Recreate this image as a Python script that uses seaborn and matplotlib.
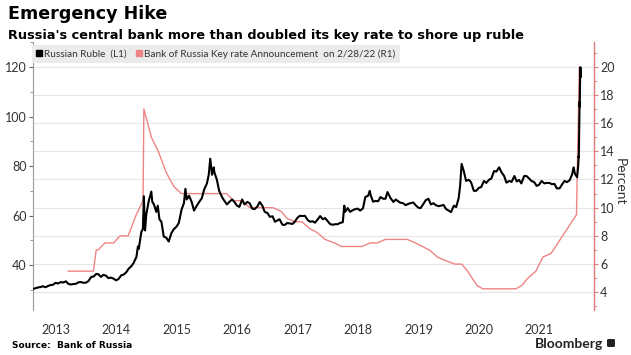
import numpy as np
import pandas as pd
import matplotlib
matplotlib.use("Agg")
import matplotlib.pyplot as plt
import matplotlib.dates as mdates
from matplotlib.lines import Line2D
from matplotlib.patches import FancyBboxPatch
import seaborn as sns

# ---------------- data ----------------
ruble_dates = [
    "2013-02-14", "2013-03-01", "2013-03-15", "2013-04-01", "2013-04-15", "2013-05-01", "2013-05-15",
    "2013-06-01", "2013-06-15", "2013-07-01", "2013-07-15", "2013-08-01", "2013-08-15", "2013-09-01",
    "2013-09-15", "2013-10-01", "2013-10-15", "2013-11-01", "2013-11-15", "2013-12-01", "2013-12-15",
    "2014-01-01", "2014-01-15", "2014-02-01", "2014-02-15", "2014-03-03", "2014-03-15", "2014-04-01",
    "2014-04-15", "2014-05-01", "2014-05-15", "2014-06-01", "2014-06-15", "2014-07-01", "2014-07-15",
    "2014-08-01", "2014-08-15", "2014-09-01", "2014-09-15", "2014-10-01", "2014-10-15", "2014-11-01",
    "2014-11-10", "2014-11-15", "2014-12-01", "2014-12-10", "2014-12-16", "2014-12-19", "2014-12-23",
    "2014-12-31", "2015-01-15", "2015-01-30", "2015-02-05", "2015-02-15", "2015-03-01", "2015-03-10",
    "2015-03-20", "2015-04-01", "2015-04-15", "2015-05-01", "2015-05-15", "2015-06-01", "2015-06-15",
    "2015-07-01", "2015-07-15", "2015-08-01", "2015-08-15", "2015-08-24", "2015-09-01", "2015-09-15",
    "2015-10-01", "2015-10-15", "2015-11-01", "2015-11-15", "2015-12-01", "2015-12-15", "2016-01-01",
    "2016-01-12", "2016-01-21", "2016-02-01", "2016-02-11", "2016-02-15", "2016-03-01", "2016-03-15",
    "2016-04-01", "2016-04-15", "2016-05-01", "2016-05-15", "2016-06-01", "2016-06-15", "2016-07-01",
    "2016-07-15", "2016-08-01", "2016-08-15", "2016-09-01", "2016-09-15", "2016-10-01", "2016-10-15",
    "2016-11-01", "2016-11-15", "2016-12-01", "2016-12-15", "2017-01-01", "2017-01-15", "2017-02-01",
    "2017-02-15", "2017-03-01", "2017-03-15", "2017-04-01", "2017-04-15", "2017-05-01", "2017-05-15",
    "2017-06-01", "2017-06-15", "2017-07-01", "2017-07-15", "2017-08-01", "2017-08-15", "2017-09-01",
    "2017-09-15", "2017-10-01", "2017-10-15", "2017-11-01", "2017-11-15", "2017-12-01", "2017-12-15",
    "2018-01-01", "2018-01-15", "2018-02-01", "2018-02-15", "2018-03-01", "2018-03-15", "2018-04-01",
    "2018-04-10", "2018-04-15", "2018-05-01", "2018-05-15", "2018-06-01", "2018-06-15", "2018-07-01",
    "2018-07-15", "2018-08-01", "2018-08-15", "2018-09-01", "2018-09-11", "2018-09-15", "2018-10-01",
    "2018-10-15", "2018-11-01", "2018-11-15", "2018-12-01", "2018-12-15", "2018-12-27", "2019-01-15",
    "2019-02-01", "2019-02-15", "2019-03-01", "2019-03-15", "2019-04-01", "2019-04-15", "2019-05-01",
    "2019-05-15", "2019-06-01", "2019-06-15", "2019-07-01", "2019-07-15", "2019-08-01", "2019-08-15",
    "2019-09-01", "2019-09-15", "2019-10-01", "2019-10-15", "2019-11-01", "2019-11-15", "2019-12-01",
    "2019-12-15", "2020-01-01", "2020-01-15", "2020-02-01", "2020-02-15", "2020-03-01", "2020-03-10",
    "2020-03-19", "2020-04-01", "2020-04-15", "2020-05-01", "2020-05-15", "2020-06-01", "2020-06-15",
    "2020-07-01", "2020-07-15", "2020-08-01", "2020-08-15", "2020-09-01", "2020-09-15", "2020-10-01",
    "2020-10-15", "2020-11-01", "2020-11-15", "2020-12-01", "2020-12-15", "2021-01-01", "2021-01-15",
    "2021-02-01", "2021-02-15", "2021-03-01", "2021-03-15", "2021-04-01", "2021-04-15", "2021-05-01",
    "2021-05-15", "2021-06-01", "2021-06-15", "2021-07-01", "2021-07-15", "2021-08-01", "2021-08-15",
    "2021-09-01", "2021-09-15", "2021-10-01", "2021-10-15", "2021-11-01", "2021-11-15", "2021-12-01",
    "2021-12-15", "2022-01-01", "2022-01-15", "2022-01-25", "2022-02-01", "2022-02-15", "2022-02-22",
    "2022-02-24", "2022-02-25", "2022-02-28", "2022-03-01", "2022-03-02", "2022-03-03", "2022-03-04",
    "2022-03-07", "2022-03-08", "2022-03-09",
]
ruble_values = [
    30.3, 30.6, 30.9, 31.1, 31.4, 31.0, 31.5,
    31.9, 32.0, 32.8, 32.5, 33.1, 32.9, 33.4,
    32.4, 32.1, 32.3, 32.4, 33.0, 33.1, 32.8,
    32.9, 33.5, 35.2, 35.3, 36.4, 36.3, 35.2,
    36.0, 35.7, 34.7, 34.9, 34.5, 33.8, 34.3,
    35.8, 36.1, 37.1, 38.5, 39.5, 40.8, 43.3,
    47.5, 46.5, 53.5, 54.5, 67.8, 60.5, 54.0,
    60.7, 66.0, 69.7, 65.5, 64.5, 61.5, 64.0,
    58.5, 57.5, 51.5, 51.0, 49.5, 53.0, 54.5,
    55.5, 57.0, 62.5, 65.0, 70.8, 66.5, 68.0,
    65.5, 62.0, 64.0, 65.5, 67.0, 70.5, 73.0,
    76.5, 83.0, 76.5, 79.5, 77.5, 74.5, 70.0,
    67.5, 66.0, 64.5, 65.5, 66.5, 65.5, 64.0,
    63.5, 66.5, 64.5, 65.5, 65.0, 62.8, 62.6,
    63.7, 65.5, 64.0, 61.5, 61.0, 59.5, 59.7,
    57.5, 58.0, 58.5, 56.3, 56.2, 57.0, 56.8,
    56.6, 57.5, 59.1, 59.9, 59.8, 59.9, 58.2,
    57.5, 57.7, 57.1, 58.5, 59.8, 58.5, 59.0,
    57.6, 56.5, 56.3, 56.5, 56.5, 57.0, 57.3,
    64.0, 61.5, 63.0, 61.5, 62.2, 62.6, 62.8,
    62.0, 62.9, 67.5, 68.0, 70.0, 68.5, 65.6,
    65.9, 65.8, 67.5, 66.8, 66.8, 69.5, 67.0,
    65.5, 66.5, 65.8, 65.2, 65.0, 64.2, 64.7,
    65.0, 65.3, 64.2, 63.2, 63.0, 64.7, 66.2,
    66.8, 64.5, 65.0, 64.2, 63.8, 64.0, 64.3,
    62.7, 62.0, 61.4, 64.0, 63.4, 67.0, 72.0,
    80.9, 78.0, 74.0, 74.5, 73.5, 70.0, 70.0,
    71.2, 71.5, 74.0, 73.2, 74.5, 75.0, 78.0,
    77.8, 79.5, 77.5, 76.0, 73.3, 74.0, 73.6,
    76.0, 73.8, 74.4, 73.0, 76.0, 76.0, 75.0,
    74.0, 73.5, 72.0, 72.5, 74.0, 73.0, 73.2,
    73.2, 72.7, 72.8, 71.0, 71.0, 72.5, 74.0,
    73.5, 74.3, 76.5, 79.5, 77.0, 75.5, 80.5,
    84.0, 83.5, 95.0, 101.0, 106.0, 104.0, 112.0,
    120.0, 116.0, 118.0,
]

rate_dates = [
    "2013-09-13", "2013-10-11", "2013-11-12", "2013-12-13",
    "2014-01-14", "2014-02-14", "2014-03-03", "2014-03-14", "2014-04-25", "2014-06-16", "2014-07-25",
    "2014-09-12", "2014-10-31", "2014-12-11", "2014-12-16",
    "2015-01-30", "2015-03-13", "2015-04-30", "2015-06-15", "2015-07-31", "2015-09-11", "2015-10-30",
    "2015-12-11",
    "2016-01-29", "2016-03-18", "2016-04-29", "2016-06-10", "2016-07-29", "2016-09-16", "2016-10-28",
    "2016-12-16",
    "2017-02-03", "2017-03-24", "2017-04-28", "2017-06-16", "2017-07-28", "2017-09-15", "2017-10-27",
    "2017-12-15",
    "2018-02-09", "2018-03-23", "2018-04-27", "2018-06-15", "2018-07-27", "2018-09-14", "2018-10-26",
    "2018-12-14",
    "2019-02-08", "2019-03-22", "2019-04-26", "2019-06-14", "2019-07-26", "2019-09-06", "2019-10-25",
    "2019-12-13",
    "2020-02-07", "2020-03-20", "2020-04-24", "2020-06-19", "2020-07-24", "2020-09-18", "2020-10-23",
    "2020-12-18",
    "2021-02-12", "2021-03-19", "2021-04-23", "2021-06-11", "2021-07-23", "2021-09-10", "2021-10-22",
    "2021-12-17",
    "2022-02-11", "2022-02-28",
]
rate_values = [
    5.5, 5.5, 5.5, 5.5,
    5.5, 5.5, 7.0, 7.0, 7.5, 7.5, 8.0,
    8.0, 9.5, 10.5, 17.0,
    15.0, 14.0, 12.5, 11.5, 11.0, 11.0, 11.0,
    11.0,
    11.0, 11.0, 11.0, 10.5, 10.5, 10.0, 10.0,
    10.0,
    10.0, 9.75, 9.25, 9.0, 9.0, 8.5, 8.25,
    7.75,
    7.5, 7.25, 7.25, 7.25, 7.25, 7.5, 7.5,
    7.75,
    7.75, 7.75, 7.75, 7.5, 7.25, 7.0, 6.5,
    6.25,
    6.0, 6.0, 5.5, 4.5, 4.25, 4.25, 4.25,
    4.25,
    4.25, 4.5, 5.0, 5.5, 6.5, 6.75, 7.5,
    8.5,
    9.5, 20.0,
]

year_labels = ["2013", "2014", "2015", "2016", "2017", "2018", "2019", "2020", "2021"]
left_ticks = [40, 60, 80, 100, 120]
right_ticks = [4, 6, 8, 10, 12, 14, 16, 18, 20]

ruble_df = pd.DataFrame({"date": pd.to_datetime(ruble_dates), "value": ruble_values})
rate_df = pd.DataFrame({"date": pd.to_datetime(rate_dates), "value": rate_values})

# ---------------- style ----------------
sns.set_theme(style="white")
plt.rcParams["font.family"] = ["Lato", "DejaVu Sans"]

RED = "#ee8484"
SPINE_RED = "#e07a7c"
TXT = "#333333"
BOLD_FAM = ["DejaVu Sans"]

W, H = 631, 355
fig = plt.figure(figsize=(W / 100, H / 100), dpi=100)
fig.patch.set_facecolor("white")

ax_l, ax_r, ax_b, ax_t = 33, 594, 310, 42
ax = fig.add_axes([ax_l / W, 1 - ax_b / H, (ax_r - ax_l) / W, (ax_b - ax_t) / H])
ax2 = ax.twinx()

sns.lineplot(data=rate_df, x="date", y="value", ax=ax2, color=RED, linewidth=1.0,
             estimator=None, zorder=3)
sns.lineplot(data=ruble_df, x="date", y="value", ax=ax, color="black", linewidth=1.5,
             estimator=None, zorder=4)

# put ruble axes on top
ax.set_zorder(ax2.get_zorder() + 1)
ax.patch.set_visible(False)

for a in (ax, ax2):
    a.set_xlabel("")
    a.set_ylabel("")

ax.set_xlim(pd.Timestamp("2013-02-14"), pd.Timestamp("2022-05-28"))
ax.set_ylim(21.8, 130.2)
ax2.set_ylim(2.745, 21.75)

# x axis: labels mid-year, grid every two years
mid_years = [pd.Timestamp(f"{y}-07-02") for y in year_labels]
ax.set_xticks(mid_years)
ax.set_xticklabels(year_labels)
ax.xaxis.set_minor_locator(mdates.YearLocator(2))
ax.tick_params(axis="x", which="both", length=0, pad=10, labelsize=9, labelcolor=TXT)

# left axis
ax.set_yticks(left_ticks)
ax.set_yticklabels([str(v) for v in left_ticks])
ax.set_yticks([30, 50, 70, 90, 110, 130], minor=True)
ax.tick_params(axis="y", which="major", length=3, width=0.8, color="#666666",
               pad=1.5, labelsize=9, labelcolor=TXT)
ax.tick_params(axis="y", which="minor", length=2, width=0.6, color="#888888")

# right axis
ax2.set_yticks(right_ticks)
ax2.set_yticklabels([str(v) for v in right_ticks])
ax2.set_yticks(list(range(3, 22, 2)), minor=True)
ax2.tick_params(axis="y", which="major", length=3, width=0.8, color=SPINE_RED,
                pad=1.5, labelsize=9, labelcolor=TXT)
ax2.tick_params(axis="y", which="minor", length=2, width=0.6, color=SPINE_RED)

# grids on the lower axes
ax.grid(False)
ax2.grid(False)
ax2.yaxis.grid(True, which="major", color="#e6e6e6", linewidth=0.8)
ax2.xaxis.grid(True, which="minor", color="#e6e6e6", linewidth=0.8)

# spines
for s in ("top", "right", "bottom"):
    ax.spines[s].set_visible(False)
ax.spines["left"].set_color("#9a9a9a")
ax.spines["left"].set_linewidth(0.8)
for s in ("top", "left", "bottom"):
    ax2.spines[s].set_visible(False)
ax2.spines["right"].set_color(SPINE_RED)
ax2.spines["right"].set_linewidth(1.0)

# legend
handles = [
    Line2D([], [], marker="s", color="black", linestyle="none", markersize=4.5),
    Line2D([], [], marker="s", color=RED, linestyle="none", markersize=4.5),
]
labels = ["Russian Ruble  (L1)", "Bank of Russia Key rate Announcement  on 2/28/22 (R1)"]
leg = ax.legend(handles, labels, loc="upper left", bbox_to_anchor=(-0.002, 0.989),
                ncol=2, frameon=True, fancybox=False, facecolor="#ebebeb", edgecolor="none",
                framealpha=1.0, fontsize=7.2, handlelength=0.6, handletextpad=0.2,
                columnspacing=0.9, borderpad=0.45, borderaxespad=0)
for t in leg.get_texts():
    t.set_color(TXT)

# titles and annotations
fig.text(8 / W, 1 - 19 / H, "Emergency Hike", fontsize=12.6, fontweight="bold",
         family=BOLD_FAM, color="black", ha="left", va="baseline")
fig.text(8 / W, 1 - 39 / H,
         "Russia's central bank more than doubled its key rate to shore up ruble",
         fontsize=9.3, fontweight="bold", family=BOLD_FAM, color="black",
         ha="left", va="baseline")
fig.text(12 / W, 1 - 348 / H, "Source:  Bank of Russia", fontsize=6.5, fontweight="bold",
         family=BOLD_FAM, color="black", ha="left", va="baseline")
fig.text(603 / W, 1 - 348 / H, "Bloomberg", fontsize=10, fontweight="bold",
         color="#222222", ha="right", va="baseline")
fig.patches.append(FancyBboxPatch((607 / W, 1 - 347 / H), 8 / W, 8 / H,
                                  boxstyle="round,pad=0,rounding_size=0.003",
                                  transform=fig.transFigure, facecolor="#222222",
                                  edgecolor="none"))
fig.text(620 / W, 1 - 182 / H, "Percent", fontsize=10, rotation=270, color=TXT,
         ha="center", va="center")

fig.savefig("out.png", dpi=100, facecolor="white")
